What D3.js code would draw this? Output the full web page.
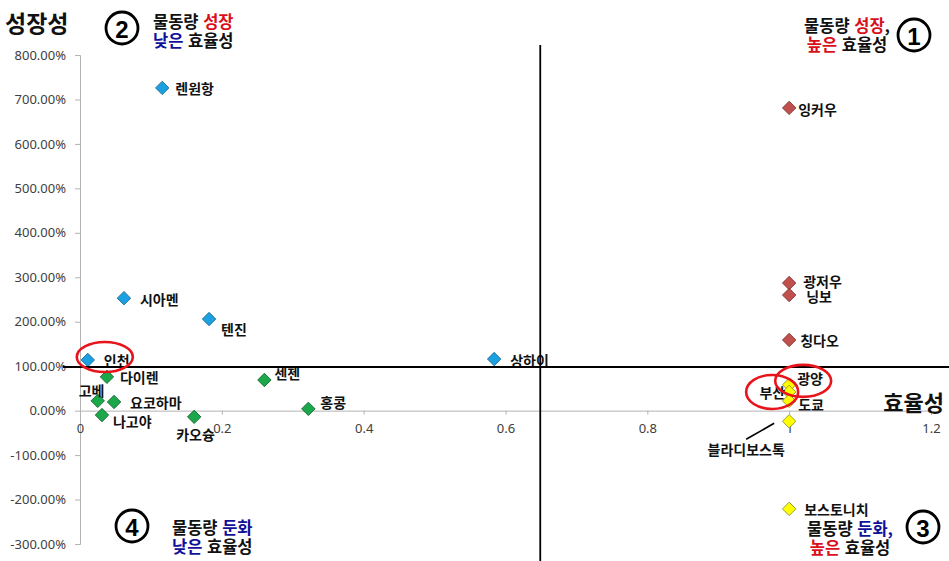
<!DOCTYPE html>
<html lang="ko">
<head>
<meta charset="utf-8">
<script src="https://cdn.jsdelivr.net/npm/d3@7/dist/d3.min.js"></script>
<style>
  html, body { margin: 0; padding: 0; background: #fff; }
  svg { display: block; }
</style>
</head>
<body>
<svg id="chart" width="949" height="561"></svg>
<script>
// Port efficiency (x) vs. cargo growth rate (y, as a fraction: 1 = 100%)
const ports = ["렌원항", "시아멘", "텐진", "인천", "상하이",
  "다이렌", "고베", "요코하마", "나고야", "카오슝", "센젠", "홍콩",
  "잉커우", "광저우", "닝보", "칭다오",
  "광양", "부산", "도쿄", "블라디보스톡", "보스토니치"];
const efficiency = [0.116, 0.062, 0.182, 0.011, 0.584,
  0.038, 0.025, 0.048, 0.031, 0.161, 0.260, 0.322,
  1.0, 1.0, 1.0, 1.0,
  1.0, 1.0, 1.0, 1.0, 1.0];
const growth = [7.26, 2.53, 2.06, 1.14, 1.16,
  0.76, 0.22, 0.195, -0.10, -0.14, 0.69, 0.04,
  6.81, 2.87, 2.60, 1.59,
  0.58, 0.42, 0.22, -0.24, -2.21];
const seriesOf = [0, 0, 0, 0, 0,
  1, 1, 1, 1, 1, 1, 1,
  2, 2, 2, 2,
  3, 3, 3, 3, 3];

const xTicks = [0, 0.2, 0.4, 0.6, 0.8, 1.0, 1.2];
const xTickLabels = ["0", "0.2", "0.4", "0.6", "0.8", "1", "1.2"];
const yTicks = [8, 7, 6, 5, 4, 3, 2, 1, 0, -1, -2, -3];
const yTickLabels = ["800.00%", "700.00%", "600.00%", "500.00%", "400.00%", "300.00%",
  "200.00%", "100.00%", "0.00%", "-100.00%", "-200.00%", "-300.00%"];

// Quadrant dividers
const splitEfficiency = 0.649;
const splitGrowth = 0.98;

// Highlighted ports
const highlighted = ["인천", "부산", "광양"];

// ---- styles and layout ----
const seriesFill = ["#1ba1e2", "#1aa84a", "#c0504d", "#ffff00"];
const seriesStroke = ["#19628c", "#10602a", "#7f2f2d", "#8a8a20"];
const KR = "'Noto Sans CJK KR', 'Noto Sans', sans-serif";

const labelPos = {
  "렌원항": [13, 0, "start"], "시아멘": [16, 1, "start"], "텐진": [12, 10, "start"],
  "인천": [16, 0, "start"], "상하이": [16, 1, "start"], "다이렌": [13, 0, "start"],
  "고베": [-19, -11, "start"], "요코하마": [16, 0, "start"], "나고야": [11, 6, "start"],
  "카오슝": [-18, 17, "start"], "센젠": [10, -7, "start"], "홍콩": [12, -7, "start"],
  "잉커우": [9, 1, "start"], "광저우": [14, -2, "start"], "닝보": [17, 1, "start"],
  "칭다오": [11, 0, "start"], "광양": [8, -7, "start"], "부산": [-4, 0, "end"],
  "도쿄": [9, 3, "start"], "블라디보스톡": [-43, 28, "middle"], "보스토니치": [15, 0, "start"]
};
const ringPos = { "인천": [17, -3, 28, 15], "부산": [-17, 0, 26, 17], "광양": [14, -4, 28, 16] };

const svg = d3.select("#chart");
const x = d3.scaleLinear().domain([0, 1.2]).range([80, 931]);
const y = d3.scaleLinear().domain([-3, 8]).range([544, 55]);

// ---- axes ----
const yAxis = d3.axisLeft(y).tickValues(yTicks)
  .tickFormat((d, i) => yTickLabels[i]).tickSize(5).tickPadding(9);
const gy = svg.append("g").attr("transform", `translate(${x(0)},0)`).call(yAxis);
const xAxis = d3.axisBottom(x).tickValues(xTicks)
  .tickFormat((d, i) => xTickLabels[i]).tickSize(4).tickPadding(9);
const gx = svg.append("g").attr("transform", `translate(0,${y(0)})`).call(xAxis);
[gx, gy].forEach(g => {
  g.select(".domain").attr("stroke", "#b3b3b3");
  g.selectAll(".tick line").attr("stroke", "#b3b3b3");
  g.selectAll(".tick text").attr("fill", "#404040")
    .style("font-family", "'Noto Sans', sans-serif").style("font-size", "13px");
});

// ---- points ----
const idx = d3.range(ports.length);
svg.append("g").selectAll("path").data(idx).join("path")
  .attr("d", d3.symbol(d3.symbolSquare, 90)())
  .attr("transform", i => `translate(${x(efficiency[i])},${y(growth[i])}) rotate(45)`)
  .attr("fill", i => seriesFill[seriesOf[i]])
  .attr("stroke", i => seriesStroke[seriesOf[i]])
  .attr("stroke-width", 0.8);

// ---- point labels ----
svg.append("g").selectAll("text").data(idx).join("text")
  .attr("x", i => x(efficiency[i]) + labelPos[ports[i]][0])
  .attr("y", i => y(growth[i]) + labelPos[ports[i]][1])
  .attr("text-anchor", i => labelPos[ports[i]][2])
  .attr("dominant-baseline", "central")
  .style("font-family", KR).style("font-size", "14px").style("font-weight", "bold")
  .attr("fill", "#111")
  .text(i => ports[i]);

// leader for 블라디보스톡
const vi = ports.indexOf("블라디보스톡");
svg.append("line")
  .attr("x1", x(efficiency[vi]) - 15).attr("y1", y(growth[vi]) + 2)
  .attr("x2", x(efficiency[vi]) - 43).attr("y2", y(growth[vi]) + 18)
  .attr("stroke", "#000").attr("stroke-width", 1.6);

// ---- quadrant dividers ----
svg.append("line")
  .attr("x1", 63).attr("x2", 949)
  .attr("y1", y(splitGrowth)).attr("y2", y(splitGrowth))
  .attr("stroke", "#000").attr("stroke-width", 2);
svg.append("line")
  .attr("x1", x(splitEfficiency)).attr("x2", x(splitEfficiency))
  .attr("y1", 45).attr("y2", 561)
  .attr("stroke", "#000").attr("stroke-width", 1.8);

// ---- highlight rings ----
highlighted.forEach(name => {
  const i = ports.indexOf(name);
  const [dx, dy, rx, ry] = ringPos[name];
  svg.append("ellipse")
    .attr("cx", x(efficiency[i]) + dx).attr("cy", y(growth[i]) + dy)
    .attr("rx", rx).attr("ry", ry)
    .attr("fill", "none").attr("stroke", "#e8141b").attr("stroke-width", 2.6);
});

// ---- axis titles ----
const bigTitle = (t, px, py, anchor, size) => svg.append("text")
  .attr("x", px).attr("y", py).attr("text-anchor", anchor)
  .attr("dominant-baseline", "central")
  .style("font-family", KR).style("font-size", size + "px").style("font-weight", "bold")
  .attr("fill", "#111").text(t);
bigTitle("성장성", 5, 22, "start", 23);
bigTitle("효율성", 944, 401, "end", 22);

// ---- quadrant notes ----
const RED = "#d9101a", BLUE = "#10109a";
function note(px, py, anchor, lines) {
  lines.forEach((parts, li) => {
    const t = svg.append("text").attr("text-anchor", anchor)
      .attr("x", px).attr("y", py + li * 19)
      .attr("dominant-baseline", "central")
      .style("font-family", KR).style("font-size", "16.5px").style("font-weight", "bold");
    parts.forEach(([txt, col]) => t.append("tspan").attr("fill", col).text(txt));
  });
}
note(153, 21, "start", [[["물동량 ", "#111"], ["성장", RED]], [["낮은", BLUE], [" 효율성", "#111"]]]);
note(847, 25, "middle", [[["물동량 ", "#111"], ["성장", RED], [",", "#111"]], [["높은", RED], [" 효율성", "#111"]]]);
note(172, 527, "start", [[["물동량 ", "#111"], ["둔화", BLUE]], [["낮은", BLUE], [" 효율성", "#111"]]]);
note(850, 528, "middle", [[["물동량 ", "#111"], ["둔화", BLUE], [",", BLUE]], [["높은", RED], [" 효율성", "#111"]]]);

// circled quadrant numbers
const badges = [["2", 122, 28], ["1", 914, 35], ["4", 132, 526], ["3", 923, 527]];
badges.forEach(([digit, cx, cy]) => {
  const g = svg.append("g").attr("transform", `translate(${cx},${cy})`);
  g.append("circle").attr("r", 16).attr("fill", "#fff")
    .attr("stroke", "#000").attr("stroke-width", 2.8);
  g.append("text").attr("text-anchor", "middle").attr("dominant-baseline", "central")
    .attr("y", 1)
    .style("font-family", "'Liberation Sans', Arial, sans-serif")
    .style("font-size", "24px").style("font-weight", "bold")
    .attr("fill", "#000").text(digit);
});
</script>
</body>
</html>
